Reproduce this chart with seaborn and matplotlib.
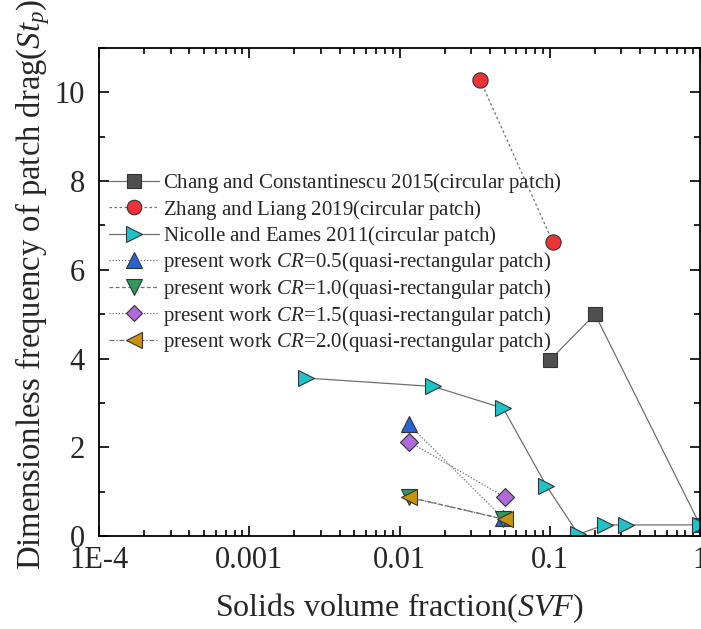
import matplotlib
matplotlib.use("Agg")
import matplotlib.pyplot as plt
import seaborn as sns
import numpy as np
from matplotlib.ticker import LogLocator, FixedLocator, NullFormatter, MultipleLocator

sns.set_style("ticks")
plt.rcParams['font.family'] = ['Liberation Serif', 'DejaVu Serif']
plt.rcParams['mathtext.fontset'] = 'custom'
plt.rcParams['mathtext.rm'] = 'Liberation Serif'
plt.rcParams['mathtext.it'] = 'Liberation Serif:italic'

# ---- data ----
chang_x = [0.1, 0.2, 1.0]
chang_y = [3.96, 5.0, 0.25]
zhang_x = [0.0345, 0.105]
zhang_y = [10.27, 6.62]
nicolle_x = [0.0024, 0.0168, 0.049, 0.095, 0.155, 0.232, 0.324, 1.0]
nicolle_y = [3.56, 3.37, 2.88, 1.13, 0.04, 0.25, 0.25, 0.25]
cr05_x = [0.0115, 0.049]
cr05_y = [2.52, 0.40]
cr10_x = [0.0115, 0.049]
cr10_y = [0.88, 0.38]
cr15_x = [0.0115, 0.050]
cr15_y = [2.13, 0.88]
cr20_x = [0.0115, 0.050]
cr20_y = [0.87, 0.38]

labels = [
    r"Chang and Constantinescu 2015(circular patch)$\,$",
    r"Zhang and Liang 2019(circular patch)$\,$",
    r"Nicolle and Eames 2011(circular patch)$\,$",
    r"present work $\mathit{CR}$=0.5(quasi-rectangular patch)",
    r"present work $\mathit{CR}$=1.0(quasi-rectangular patch)",
    r"present work $\mathit{CR}$=1.5(quasi-rectangular patch)",
    r"present work $\mathit{CR}$=2.0(quasi-rectangular patch)",
]
xtick_vals = [1e-4, 1e-3, 1e-2, 1e-1, 1]
xtick_labels = ["1E-4", "0.001", "0.01", "0.1", "1"]

series = [
    (chang_x, chang_y, 's', '#4f4f4f', '-'),
    (zhang_x, zhang_y, 'o', '#ee3338', (0, (2, 2))),
    (nicolle_x, nicolle_y, '>', '#1ec3c8', '-'),
    (cr05_x, cr05_y, '^', '#2a63d6', (0, (1, 1.5))),
    (cr10_x, cr10_y, 'v', '#2f9a5c', (0, (3, 2))),
    (cr15_x, cr15_y, 'D', '#b06ad9', (0, (1, 1.5))),
    (cr20_x, cr20_y, '<', '#c9940b', (0, (4, 1.5, 1, 1.5))),
]

fig = plt.figure(figsize=(7.01, 6.29), dpi=100)
ax = fig.add_axes([99/701, 1-536/629, (700-99)/701, (536-48)/629])

for (x, y, m, c, ls), lab in zip(series, labels):
    ms = {'s': 10, 'D': 9, 'o': 11}.get(m, 11.5)
    sns.lineplot(x=x, y=y, ax=ax, sort=False, estimator=None, marker=m,
                 markersize=ms, markerfacecolor=c, markeredgecolor='#333333',
                 markeredgewidth=0.8, color='#707070', linewidth=0.9,
                 linestyle=ls, label=lab, clip_on=True)

ax.set_xscale('log')
ax.set_xlim(1e-4, 1)
ax.set_ylim(0, 11)
ax.xaxis.set_major_locator(FixedLocator(xtick_vals))
ax.set_xticklabels(xtick_labels)
ax.xaxis.set_minor_locator(LogLocator(base=10, subs=np.arange(2, 10), numticks=20))
ax.xaxis.set_minor_formatter(NullFormatter())
ax.yaxis.set_major_locator(FixedLocator([0, 2, 4, 6, 8, 10]))
ax.yaxis.set_minor_locator(MultipleLocator(1))

for s in ax.spines.values():
    s.set_linewidth(1.3)
    s.set_color('black')
ax.tick_params(which='both', direction='in', top=True, right=True, width=1.2, color='black')
ax.tick_params(which='major', length=7, labelsize=22)
ax.tick_params(axis='x', which='major', pad=7)
ax.tick_params(axis='y', which='major', pad=10)
ax.tick_params(which='minor', length=4)

ax.set_xlabel(r"Solids volume fraction($\mathit{SVF}$)", fontsize=23, labelpad=12)
ax.set_ylabel(r"Dimensionless frequency of patch drag($\mathit{St}_{\mathit{p}}$)", fontsize=23.5)
ax.yaxis.set_label_coords(-0.078, 0.515)

leg = ax.legend(loc='upper left', bbox_to_anchor=(109/701, 1-171/629),
                bbox_transform=fig.transFigure, frameon=False,
                fontsize=15, handlelength=2.4, handletextpad=0.2,
                labelspacing=0.12, borderaxespad=0, borderpad=0, markerscale=0.95)

fig.savefig("out.png", dpi=100)
